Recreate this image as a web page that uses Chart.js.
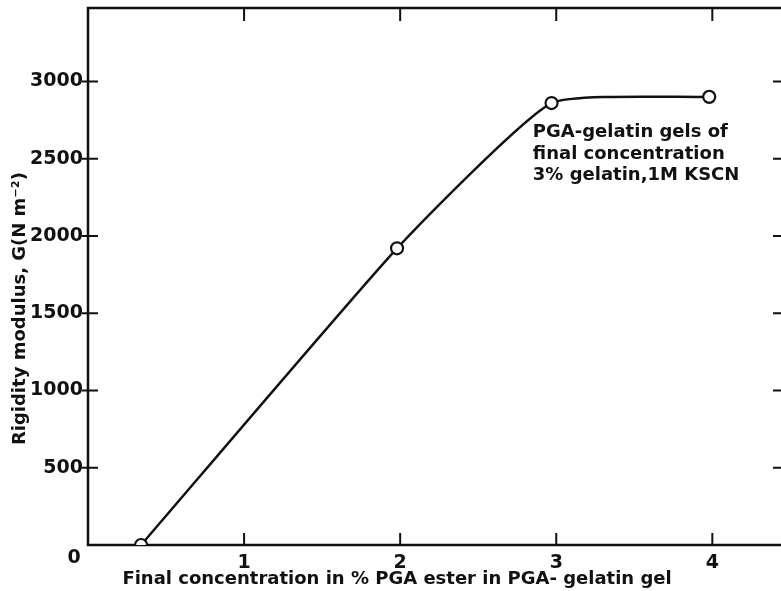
<!DOCTYPE html>
<html>
<head>
<meta charset="utf-8">
<script src="https://cdn.jsdelivr.net/npm/chart.js@4/dist/chart.umd.min.js"></script>
<style>
  html, body { margin: 0; padding: 0; background: #fff; }
  #wrap { width: 781px; height: 591px; position: relative; }
</style>
</head>
<body>
<div id="wrap"><canvas id="chart"></canvas></div>
<script>
// concentration of PGA ester (%) and rigidity modulus G (N m^-2)
const concentration = [0.34, 1.98, 2.97, 3.98];
const rigidity = [0, 1920, 2860, 2900];

const xTicks = [0, 1, 2, 3, 4];
const yTicks = [0, 500, 1000, 1500, 2000, 2500, 3000];

const xTitle = 'Final concentration in % PGA ester in PGA- gelatin gel';
const yTitle = 'Rigidity modulus, G(N m\u207B\u00B2)';
const note = ['PGA-gelatin gels of', 'final concentration', '3% gelatin,1M KSCN'];

const ink = '#111';
const font = '"DejaVu Sans", sans-serif';

// frame, inward ticks and texts drawn around the plot
const frame = {
    id: 'frame',
    beforeDatasetsDraw(chart) {
        const { ctx, chartArea: a, scales: { x, y } } = chart;
        ctx.save();
        ctx.strokeStyle = ink;
        ctx.lineWidth = 2.5;
        ctx.beginPath();
        ctx.moveTo(a.right + 2, a.top);
        ctx.lineTo(a.left, a.top);
        ctx.lineTo(a.left, a.bottom);
        ctx.lineTo(a.right + 2, a.bottom);
        ctx.stroke();

        ctx.lineWidth = 2;
        ctx.beginPath();
        xTicks.slice(1).forEach(v => {
            const px = x.getPixelForValue(v);
            ctx.moveTo(px, a.bottom);
            ctx.lineTo(px, a.bottom - 12);
            ctx.moveTo(px, a.top);
            ctx.lineTo(px, a.top + 13);
        });
        yTicks.slice(1).forEach(v => {
            const py = y.getPixelForValue(v);
            ctx.moveTo(a.left - 6, py);
            ctx.lineTo(a.left + 10, py);
            ctx.moveTo(a.right - 8, py);
            ctx.lineTo(a.right, py);
        });
        ctx.stroke();
        ctx.restore();
    },
    afterDraw(chart) {
        const { ctx, scales: { x, y } } = chart;
        ctx.save();
        ctx.fillStyle = ink;
        ctx.font = 'bold 19px ' + font;
        ctx.textAlign = 'center';
        ctx.textBaseline = 'middle';
        ctx.fillText('0', x.getPixelForValue(0) - 14, y.getPixelForValue(0) + 13);

        ctx.font = 'bold 18px ' + font;
        ctx.fillText(xTitle, x.getPixelForValue(1.98), 579);

        ctx.save();
        ctx.translate(20, y.getPixelForValue(1530));
        ctx.rotate(-Math.PI / 2);
        ctx.fillText(yTitle, 0, 0);
        ctx.restore();

        ctx.textAlign = 'left';
        note.forEach((line, i) => {
            ctx.fillText(line, x.getPixelForValue(2.85), y.getPixelForValue(2670) + i * 21.5);
        });
        ctx.restore();
    }
};

const noPad = s => { s.paddingTop = 0; s.paddingBottom = 0; s.paddingLeft = 0; s.paddingRight = 0; };

new Chart(document.getElementById('chart'), {
    type: 'scatter',
    data: {
        datasets: [{
            data: concentration.map((c, i) => ({ x: c, y: rigidity[i] })),
            showLine: true,
            tension: 0.15,
            borderColor: ink,
            borderWidth: 2.5,
            pointRadius: 6,
            pointBorderWidth: 2.2,
            pointBackgroundColor: '#fff',
            pointBorderColor: ink,
        }],
    },
    options: {
        responsive: true,
        maintainAspectRatio: false,
        animation: false,
        layout: { autoPadding: false, padding: { top: 8, right: 0, left: 0, bottom: 0 } },
        plugins: { legend: { display: false }, tooltip: { enabled: false } },
        scales: {
            x: {
                type: 'linear',
                min: 0,
                max: 4.44,
                afterFit: s => { s.height = 46; noPad(s); },
                afterBuildTicks: s => { s.ticks = xTicks.map(v => ({ value: v })); },
                grid: { display: false, drawTicks: false },
                border: { display: false },
                ticks: {
                    padding: 7,
                    color: ink,
                    font: { family: font, size: 19, weight: 'bold' },
                    callback: v => (v === 0 ? '' : v),
                },
            },
            y: {
                type: 'linear',
                min: 0,
                max: 3475,
                afterFit: s => { s.width = 88; noPad(s); },
                afterBuildTicks: s => { s.ticks = yTicks.map(v => ({ value: v })); },
                grid: { display: false, drawTicks: false },
                border: { display: false },
                ticks: {
                    padding: 5,
                    color: ink,
                    font: { family: font, size: 19, weight: 'bold' },
                    callback: v => (v === 0 ? '' : v),
                },
            },
        },
    },
    plugins: [frame],
});
</script>
</body>
</html>
